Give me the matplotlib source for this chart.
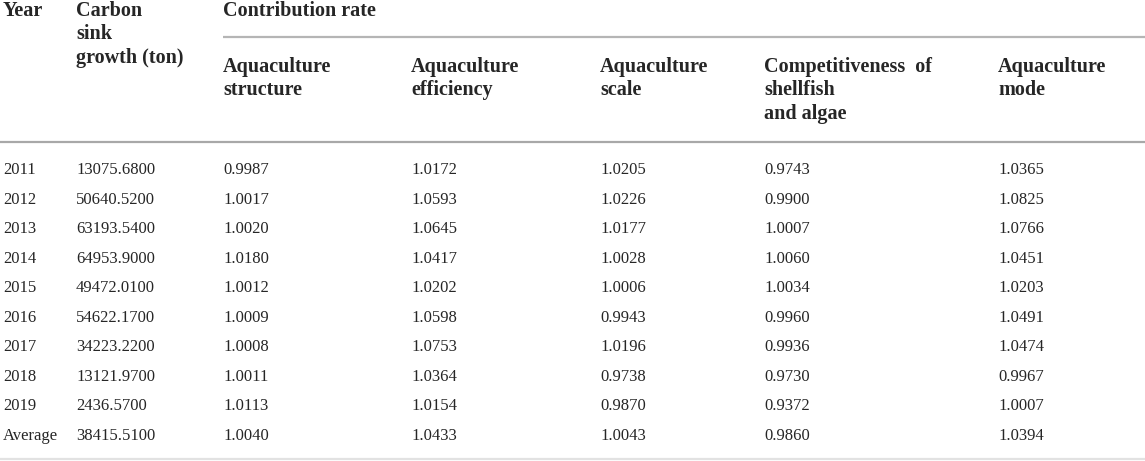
import matplotlib
matplotlib.use("Agg")
import matplotlib.pyplot as plt

years = ["2011", "2012", "2013", "2014", "2015", "2016", "2017", "2018", "2019", "Average"]
carbon_growth = ["13075.6800", "50640.5200", "63193.5400", "64953.9000", "49472.0100",
                 "54622.1700", "34223.2200", "13121.9700", "2436.5700", "38415.5100"]
structure = ["0.9987", "1.0017", "1.0020", "1.0180", "1.0012", "1.0009", "1.0008", "1.0011", "1.0113", "1.0040"]
efficiency = ["1.0172", "1.0593", "1.0645", "1.0417", "1.0202", "1.0598", "1.0753", "1.0364", "1.0154", "1.0433"]
scale = ["1.0205", "1.0226", "1.0177", "1.0028", "1.0006", "0.9943", "1.0196", "0.9738", "0.9870", "1.0043"]
competitiveness = ["0.9743", "0.9900", "1.0007", "1.0060", "1.0034", "0.9960", "0.9936", "0.9730", "0.9372", "0.9860"]
mode = ["1.0365", "1.0825", "1.0766", "1.0451", "1.0203", "1.0491", "1.0474", "0.9967", "1.0007", "1.0394"]

top_headers = [["Year"], ["Carbon", "sink", "growth (ton)"], ["Contribution rate"]]
sub_headers = [["Aquaculture", "structure"], ["Aquaculture", "efficiency"], ["Aquaculture", "scale"],
               ["Competitiveness  of", "shellfish", "and algae"], ["Aquaculture", "mode"]]

W, H = 1145, 461
col_x = [3, 76, 223, 411, 600, 764, 998]
row_y0, row_step = 170, 29.5
head_step = 23.3

fig = plt.figure(figsize=(W / 100, H / 100), dpi=100)
ax = fig.add_axes([0, 0, 1, 1])
ax.set_xlim(0, W)
ax.set_ylim(H, 0)
ax.axis("off")

font = "Liberation Serif"
head_fs = 14.5
body_fs = 12
head_color = "#262626"
body_color = "#262626"


def header(x, y0, lines):
    for k, line in enumerate(lines):
        ax.text(x, y0 + k * head_step, line, fontsize=head_fs, fontweight="bold",
                family=font, color=head_color, va="center", ha="left")


for x, lines in zip(col_x[:3], top_headers):
    header(x, 11, lines)
for x, lines in zip(col_x[2:], sub_headers):
    header(x, 67, lines)

ax.hlines(37, col_x[2], W, color="#b5b5b5", linewidth=1.6)
ax.hlines(142, 0, W, color="#a8a8a8", linewidth=1.6)
ax.hlines(459, 0, W, color="#e2e2e2", linewidth=1.6)

columns = [years, carbon_growth, structure, efficiency, scale, competitiveness, mode]
for i in range(len(years)):
    y = row_y0 + i * row_step
    for x, col in zip(col_x, columns):
        ax.text(x, y, col[i], fontsize=body_fs, family=font, color=body_color,
                va="center", ha="left")

fig.savefig("out.png", dpi=100, facecolor="white")
